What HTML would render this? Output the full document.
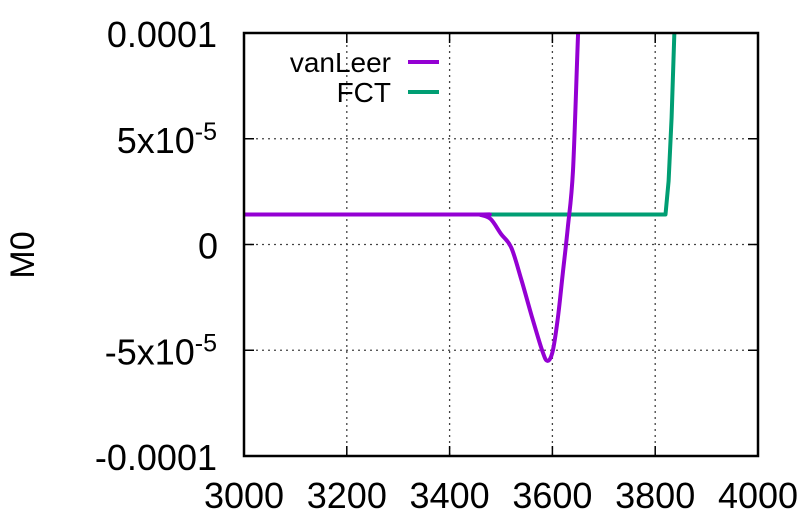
<!DOCTYPE html>
<html><head><meta charset="utf-8"><style>
html,body{margin:0;padding:0;background:#fff;}
svg{display:block;font-family:"Liberation Sans",Arial,sans-serif;}
</style></head><body>
<svg id="chart" width="809" height="526">
<defs><clipPath id="clip"><rect x="244" y="33" width="514" height="423"/></clipPath></defs>
<g id="grid"></g>
<g id="series" clip-path="url(#clip)"></g>
<rect x="244" y="33" width="514" height="423" fill="none" stroke="#000" stroke-width="2.5"/>
<g id="ticks"></g>
<text x="34" y="255" font-size="34" text-anchor="middle" transform="rotate(-90 34 255)">M0</text>
<g>
<text x="391" y="72" font-size="28" text-anchor="end">vanLeer</text>
<line x1="408" y1="62" x2="439" y2="62" stroke="#9400d3" stroke-width="4"/>
<text x="391" y="102" font-size="28" text-anchor="end">FCT</text>
<line x1="408" y1="92" x2="439" y2="92" stroke="#009e73" stroke-width="4"/>
</g>
</svg>
<script>
const xTicks=[3000,3200,3400,3600,3800,4000];
const yTicks=[-0.0001,-0.00005,0,0.00005,0.0001];
const yTickLabels=["-0.0001","-5x10<sup>-5</sup>","0","5x10<sup>-5</sup>","0.0001"];
const vanLeerX=[3000,3440,3460,3480,3500,3520,3540,3560,3580,3590,3600,3610,3620,3630,3640,3650,3660];
const vanLeerY=[1.42e-5,1.42e-5,1.4e-5,1.2e-5,5e-6,-1.5e-6,-1.7e-5,-3.4e-5,-5e-5,-5.5e-5,-5.1e-5,-3.6e-5,-1.4e-5,8e-6,3.5e-5,1e-4,1.6e-4];
const fctX=[3000,3820,3826,3832,3838,3850];
const fctY=[1.42e-5,1.42e-5,3e-5,6e-5,1.05e-4,2e-4];
const X0=244,X1=758,Y0=456,Y1=33;
const sx=v=>X0+(v-3000)/1000*(X1-X0);
const sy=v=>Y0-(v+0.0001)/0.0002*(Y0-Y1);
const NS="http://www.w3.org/2000/svg";
const grid=document.getElementById('grid'),ticks=document.getElementById('ticks'),series=document.getElementById('series');
function mk(tag,attrs,parent){const e=document.createElementNS(NS,tag);for(const k in attrs)e.setAttribute(k,attrs[k]);parent.appendChild(e);return e;}
xTicks.forEach((t,i)=>{
  const x=sx(t);
  if(i>0&&i<xTicks.length-1){
    const g=mk('line',{x1:x,y1:Y1,x2:x,y2:Y0,stroke:'#444','stroke-width':1.3,'stroke-dasharray':'2,4'},grid);
    
    
    const a=mk('line',{x1:x,y1:Y0,x2:x,y2:Y0-10,stroke:'#000','stroke-width':1.5},ticks);
    
    
    const b=mk('line',{x1:x,y1:Y1,x2:x,y2:Y1+10,stroke:'#000','stroke-width':1.5},ticks);
    
    
  }
  const tx=mk('text',{x:x,y:508,'font-size':36,'text-anchor':'middle'},ticks);
  tx.textContent=t;
  
  
});
yTicks.forEach((t,i)=>{
  const y=sy(t);
  if(i>0&&i<yTicks.length-1){
    const g=mk('line',{x1:X0,y1:y,x2:X1,y2:y,stroke:'#444','stroke-width':1.3,'stroke-dasharray':'2,4'},grid);
    
    
    const a=mk('line',{x1:X0,y1:y,x2:X0+10,y2:y,stroke:'#000','stroke-width':1.5},ticks);
    
    
    const b=mk('line',{x1:X1,y1:y,x2:X1-10,y2:y,stroke:'#000','stroke-width':1.5},ticks);
    
    
  }
  const lab=yTickLabels[i];
  const tx=mk('text',{x:lab==="0"?218:217,y:y+14,'font-size':36,'text-anchor':'end'},ticks);
  if(lab.indexOf('<sup>')>=0){
    const base=lab.split('<sup>')[0],sup=lab.split('<sup>')[1].replace('</sup>','');
    const s1=mk('tspan',{},tx);s1.textContent=base;
    const s2=mk('tspan',{dy:-13,'font-size':25},tx);s2.textContent=sup;
  } else tx.textContent=lab;
  
  
});
function drawLine(xs,ys,color,name,smooth){
  const P=xs.map((v,i)=>[sx(v),sy(ys[i])]);
  let d='M'+P[0][0].toFixed(1)+','+P[0][1].toFixed(1);
  for(let i=0;i<P.length-1;i++){
    if(!smooth){d+=' L'+P[i+1][0].toFixed(1)+','+P[i+1][1].toFixed(1);continue;}
    const p0=P[Math.max(0,i-1)],p1=P[i],p2=P[i+1],p3=P[Math.min(P.length-1,i+2)];
    const c1=[p1[0]+(p2[0]-p0[0])/6,p1[1]+(p2[1]-p0[1])/6];
    const c2=[p2[0]-(p3[0]-p1[0])/6,p2[1]-(p3[1]-p1[1])/6];
    if(i===0){c1[1]=p1[1];c2[1]=p2[1];}
    d+=' C'+c1[0].toFixed(1)+','+c1[1].toFixed(1)+' '+c2[0].toFixed(1)+','+c2[1].toFixed(1)+' '+p2[0].toFixed(1)+','+p2[1].toFixed(1);
  }
  const p=mk('path',{d:d,fill:'none',stroke:color,'stroke-width':4,'stroke-linejoin':'round'},series);
  
  
}
drawLine(fctX,fctY,'#009e73','fct-line',false);
drawLine(vanLeerX,vanLeerY,'#9400d3','vanleer-line',true);
</script>
</body></html>
